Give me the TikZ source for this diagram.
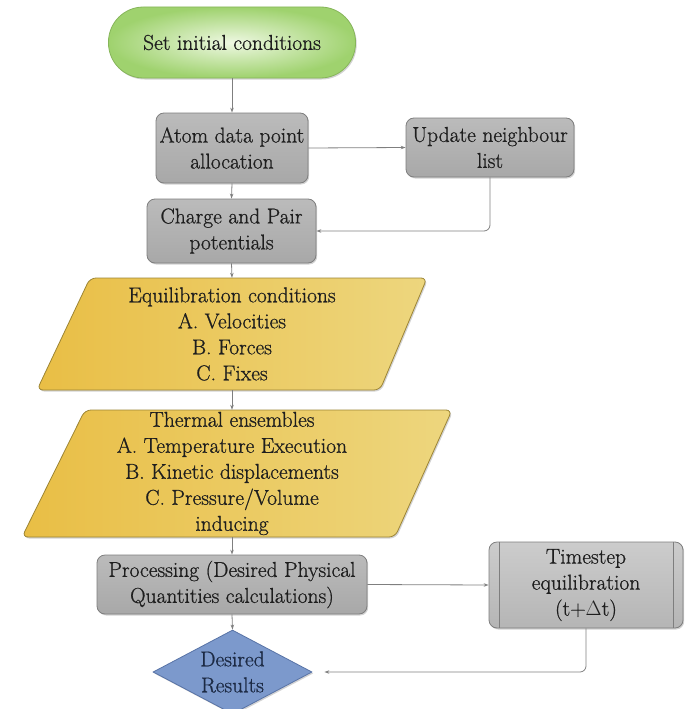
\documentclass[tikz,border=0pt]{standalone}
\usepackage{fontspec}
\newfontfamily\heavyrm{Latin Modern Roman}[FakeBold=0.8]
\usetikzlibrary{arrows.meta,shapes.geometric,shadows,calc}
\definecolor{linegray}{HTML}{7F7F7F}
\definecolor{textdark}{HTML}{1E1E1E}
\definecolor{graybd}{HTML}{7E7E7E}
\definecolor{graytop}{HTML}{BBBBBB}
\definecolor{graybot}{HTML}{A8A8A8}
\definecolor{greenin}{HTML}{EEF8E2}
\definecolor{greenout}{HTML}{9FD26E}
\definecolor{greenbd}{HTML}{86B55A}
\definecolor{yelL}{HTML}{E9BE45}
\definecolor{yelR}{HTML}{EDD67E}
\definecolor{yelbd}{HTML}{9C8434}
\definecolor{bluefill}{HTML}{7C99CC}
\definecolor{bluebd}{HTML}{5873A6}
\definecolor{bluetext}{HTML}{1C2A44}
\tikzset{
  conn/.style={draw=linegray, line width=0.8pt, -{Stealth[length=5pt,width=3.5pt]}},
  txt/.style={align=center, inner sep=0pt, font=\heavyrm\fontsize{21.5}{26}\selectfont, text=textdark},
  shad/.style={drop shadow={shadow xshift=1.2pt, shadow yshift=-1.5pt, opacity=0.35}},
  graybox/.style={txt, shape=rectangle, draw=graybd, line width=0.8pt, rounded corners=8pt,
    top color=graytop, bottom color=graybot, shad},
  startbox/.style={txt, shape=rectangle, draw=greenbd, line width=0.8pt, rounded corners=35pt,
    inner color=greenin, outer color=greenout, shad},
  parashape/.style={draw=yelbd, line width=0.8pt, rounded corners=6pt, left color=yelL, right color=yelR, shad},
  paratext/.style={txt, minimum width=10pt},
  resshape/.style={shape=diamond, draw=bluebd, line width=0.8pt, fill=bluefill, shad, inner sep=0pt},
}
\begin{document}
\begin{tikzpicture}[x=1pt,y=-1pt]
\useasboundingbox (0,0) rectangle (691,709);

% start
\node[startbox, minimum width=247pt, minimum height=71pt] (start) at (232,42.5) {Set initial conditions};

% gray boxes
\node[graybox, minimum width=152pt, minimum height=70pt] (atom) at (232,148) {Atom data point\\allocation};
\node[graybox, minimum width=168pt, minimum height=59pt] (upd) at (490,147.5) {Update neighbour\\list};
\node[graybox, minimum width=169pt, minimum height=64pt] (charge) at (231.5,231) {Charge and Pair\\potentials};

% parallelograms
\path[parashape] (90,278) -- (427,278) -- (380,390) -- (37,390) -- cycle;
\node[paratext, minimum height=112pt] (eq) at (232,334) {Equilibration conditions\\A. Velocities\\B. Forces\\C. Fixes};

\path[parashape] (85,410) -- (452,410) -- (395,537) -- (22,537) -- cycle;
\node[paratext, minimum height=127pt] (therm) at (232,473.5) {Thermal ensembles\\A. Temperature Execution\\B. Kinetic displacements\\C. Pressure/Volume\\inducing};

% processing
\node[graybox, minimum width=270pt, minimum height=59pt] (proc) at (232,584.5) {Processing (Desired Physical\\Quantities calculations)};

% timestep (predefined process)
\node[graybox, top color=graytop!75!white, bottom color=graybot!85!white, minimum width=194pt, minimum height=86pt] (time) at (586,585) {Timestep\\equilibration\\(t+$\Delta$t)};
\draw[graybd, line width=0.8pt] ([xshift=11pt]time.north west) -- ([xshift=11pt]time.south west);
\draw[graybd, line width=0.8pt] ([xshift=-10pt]time.north east) -- ([xshift=-10pt]time.south east);

% result diamond
\node[resshape, minimum width=159pt, minimum height=84pt] (res) at (232.5,672) {};
\node[txt, text=bluetext] (restext) at (res.center) {Desired\\Results};

% connectors
\draw[conn] (start.south) -- (atom.north);
\draw[conn] (atom.south) -- (charge.north);
\draw[conn] (atom.east) -- (upd.west);
\draw[conn, rounded corners=6pt] (upd.south) |- (charge.east);
\draw[conn] (charge.south) -- (eq.north);
\draw[conn] (eq.south) -- (therm.north);
\draw[conn] (therm.south) -- (proc.north);
\draw[conn] (proc.east) -- (time.west);
\draw[conn] (proc.south) -- (res.north);
\draw[conn, rounded corners=6pt, shorten >=12pt] (time.south) |- (res.east);
\end{tikzpicture}
\end{document}
